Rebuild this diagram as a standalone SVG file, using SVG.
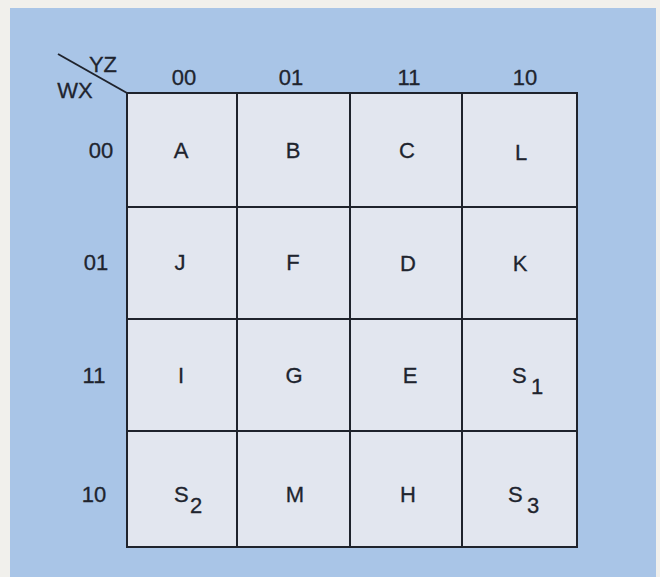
<svg xmlns="http://www.w3.org/2000/svg" width="660" height="577" viewBox="0 0 660 577">
  <style>
    .cell { fill: #e2e6ef; stroke: #1f232c; stroke-width: 2; }
    .t { font-family: "Liberation Sans", Arial, sans-serif; font-size: 22px; fill: #20242e; stroke: #20242e; stroke-width: 0.3; text-anchor: middle; }
    .s { text-anchor: start; }
    .line { stroke: #1f232c; stroke-width: 2; fill: none; }
  </style>
  <rect x="0" y="0" width="660" height="577" fill="#f1f0ec"/>
  <rect x="10" y="8" width="646" height="569" fill="#a9c5e7"/>

  <g id="headers">
    <text class="t" x="103" y="72">YZ</text>
    <text class="t" x="75" y="98">WX</text>
    <text class="t" x="184" y="85">00</text>
    <text class="t" x="291" y="85">01</text>
    <text class="t" x="409" y="85">11</text>
    <text class="t" x="525" y="85">10</text>
    <text class="t" x="101" y="158">00</text>
    <text class="t" x="96" y="270">01</text>
    <text class="t" x="94" y="383">11</text>
    <text class="t" x="94" y="502">10</text>
  </g>

  <g id="connectors">
    <line class="line" x1="58" y1="54" x2="127" y2="93"/>
  </g>

  <g id="cell-A"><rect class="cell" x="127" y="93" width="110" height="114"/><text class="t" x="181" y="158">A</text></g>
  <g id="cell-B"><rect class="cell" x="237" y="93" width="113" height="114"/><text class="t" x="293" y="158">B</text></g>
  <g id="cell-C"><rect class="cell" x="350" y="93" width="112" height="114"/><text class="t" x="407" y="158">C</text></g>
  <g id="cell-L"><rect class="cell" x="462" y="93" width="115" height="114"/><text class="t" x="521" y="160">L</text></g>

  <g id="cell-J"><rect class="cell" x="127" y="207" width="110" height="112"/><text class="t" x="180" y="270">J</text></g>
  <g id="cell-F"><rect class="cell" x="237" y="207" width="113" height="112"/><text class="t" x="293" y="270">F</text></g>
  <g id="cell-D"><rect class="cell" x="350" y="207" width="112" height="112"/><text class="t" x="408" y="271">D</text></g>
  <g id="cell-K"><rect class="cell" x="462" y="207" width="115" height="112"/><text class="t" x="520" y="271">K</text></g>

  <g id="cell-I"><rect class="cell" x="127" y="319" width="110" height="112"/><text class="t" x="181" y="383">I</text></g>
  <g id="cell-G"><rect class="cell" x="237" y="319" width="113" height="112"/><text class="t" x="294" y="383">G</text></g>
  <g id="cell-E"><rect class="cell" x="350" y="319" width="112" height="112"/><text class="t" x="410" y="383">E</text></g>
  <g id="cell-S1"><rect class="cell" x="462" y="319" width="115" height="112"/><text class="t s" x="512" y="383">S<tspan x="531" y="394">1</tspan></text></g>

  <g id="cell-S2"><rect class="cell" x="127" y="431" width="110" height="116"/><text class="t s" x="174" y="502">S<tspan x="190" y="513">2</tspan></text></g>
  <g id="cell-M"><rect class="cell" x="237" y="431" width="113" height="116"/><text class="t" x="295" y="502">M</text></g>
  <g id="cell-H"><rect class="cell" x="350" y="431" width="112" height="116"/><text class="t" x="408" y="502">H</text></g>
  <g id="cell-S3"><rect class="cell" x="462" y="431" width="115" height="116"/><text class="t s" x="508" y="502">S<tspan x="527" y="513">3</tspan></text></g>
</svg>
